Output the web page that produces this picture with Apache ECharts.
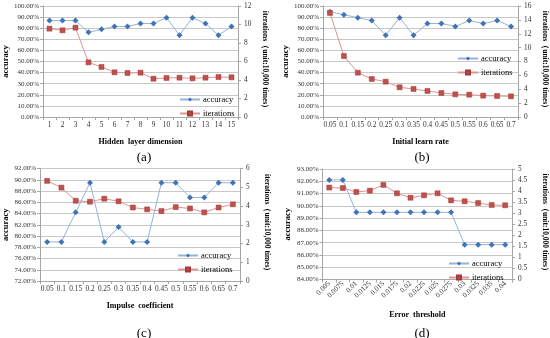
<!DOCTYPE html>
<html>
<head>
<meta charset="utf-8">
<script src="https://cdn.jsdelivr.net/npm/echarts@6/dist/echarts.min.js"></script>
<style>html,body{margin:0;padding:0;background:#fff;}#c{width:550px;height:338px;}</style>
</head>
<body>
<div id="c"></div>
<script>
// ---- data ----
const catsA = ['1','2','3','4','5','6','7','8','9','10','11','12','13','14','15'];
const accA  = [86.84,86.84,86.84,76.32,78.95,81.58,81.58,84.21,84.21,89.47,73.68,89.47,84.21,73.68,81.58];
const iterA = [9.55,9.37,9.66,5.91,5.41,4.83,4.76,4.79,4.14,4.22,4.25,4.18,4.25,4.32,4.29];

const catsB = ['0.05','0.1','0.15','0.2','0.25','0.3','0.35','0.4','0.45','0.5','0.55','0.6','0.65','0.7'];
const accB  = [94.74,92.11,89.47,86.84,73.68,89.47,73.68,84.21,84.21,81.58,86.84,84.21,86.84,81.58];
const iterB = [15.0,8.79,6.39,5.48,5.09,4.28,4.04,3.75,3.46,3.27,3.22,3.08,3.03,2.98];

const catsC = ['0.05','0.1','0.15','0.2','0.25','0.3','0.35','0.4','0.45','0.5','0.55','0.6','0.65','0.7'];
const accC  = [78.95,78.95,84.21,89.47,78.95,81.58,78.95,78.95,89.47,89.47,86.84,86.84,89.47,89.47];
const iterC = [5.34,4.98,4.28,4.23,4.39,4.25,3.92,3.82,3.73,3.94,3.87,3.66,3.92,4.09];

const catsD = ['0.005','0.0075','0.01','0.0125','0.015','0.0175','0.02','0.0225','0.025','0.0275','0.03','0.0325','0.035','0.04'];
const accD  = [92.11,92.11,89.47,89.47,89.47,89.47,89.47,89.47,89.47,89.47,86.84,86.84,86.84,86.84];
const iterD = [4.16,4.14,3.96,4.02,4.28,3.90,3.70,3.81,3.90,3.58,3.54,3.46,3.37,3.36];

const xTitles = ['Hidden  layer dimension','Initial learn rate','Impulse  coefficient','Error  threshold'];
const panelLabels = ['(a)','(b)','(c)','(d)'];
const leftRanges = [[0,100,10],[0,100,10],[72,92,2],[84,93,1]];
const rightRanges = [[0,12,2],[0,16,2],[0,6,1],[0,5,0.5]];
const yLeftTitle = 'accuracy';
const yRightTitle = 'iterations（unit:10,000 times）';
const seriesNames = ['accuracy','iterations'];

// ---- layout ----
const FONT = 'Liberation Serif';
const grids = [
  {left:39, top:6, width:199, height:111},
  {left:323, top:6, width:198, height:111},
  {left:39, top:168.5, width:201, height:112.5},
  {left:322.5, top:169, width:197.5, height:110.5}
];
const cats = [catsA,catsB,catsC,catsD];
const accs = [accA,accB,accC,accD];
const iters = [iterA,iterB,iterC,iterD];
const axisGray = '#a6a6a6';
const gridGray = '#c8c8c8';
const labelCol = '#333333';

const option = {
  animation:false,
  backgroundColor:'#fff',
  grid: grids.map(g => Object.assign({containLabel:false}, g)),
  title: panelLabels.map((t,i) => ({
    text:t, left: [139,417,139,417][i], top:[146,146,322,322][i], textAlign:'center',
    textStyle:{fontFamily:FONT, fontSize:13, fontWeight:'normal', color:'#000'}
  })),
  xAxis: cats.map((c,i) => ({
    type:'category', gridIndex:i, data:c, boundaryGap:true,
    name: xTitles[i], nameLocation:'middle', nameGap: i===3 ? 31 : 21,
    nameTextStyle:{fontFamily:FONT, fontSize:8, fontWeight:'bold', color:'#000'},
    axisLine:{lineStyle:{color:axisGray}},
    axisTick:{show:true, length:3, lineStyle:{color:axisGray}, alignWithLabel:false},
    axisLabel:{fontFamily:FONT, fontSize:7.3, color:labelCol, margin: i===3 ? 3 : 5, interval:0, rotate: i===3 ? 45 : 0}
  })),
  yAxis: [].concat(...grids.map((g,i) => [
    {type:'value', gridIndex:i, min:leftRanges[i][0], max:leftRanges[i][1], interval:leftRanges[i][2],
     name:yLeftTitle, nameLocation:'middle', nameGap:30,
     nameTextStyle:{fontFamily:FONT, fontSize:8.5, fontWeight:'bold', color:'#000'},
     axisLine:{show:true, lineStyle:{color:axisGray}},
     axisTick:{show:true, length:3, lineStyle:{color:axisGray}},
     splitLine:{show:true, lineStyle:{color:gridGray, width:1}},
     axisLabel:{fontFamily:FONT, fontSize:7, color:labelCol, margin:4, formatter:v => v.toFixed(2)+'%'}},
    {type:'value', gridIndex:i, position:'right', min:rightRanges[i][0], max:rightRanges[i][1], interval:rightRanges[i][2],
     name:yRightTitle, nameLocation:'middle', nameGap: i===3 ? 29 : 23, nameRotate:-90,
     nameTextStyle:{fontFamily:FONT, fontSize:7.5, fontWeight:'bold', color:'#000'},
     axisLine:{show:true, lineStyle:{color:axisGray}},
     axisTick:{show:true, length:3, lineStyle:{color:axisGray}},
     splitLine:{show:false},
     axisLabel:{fontFamily:FONT, fontSize:7.3, color:labelCol, margin:6}}
  ])),
  legend: [
    {left:174, top:90},
    {left:452, top:49},
    {left:172, top:246},
    {left:443, top:254}
  ].map(p => Object.assign({
    orient:'vertical', itemGap:5, itemWidth:20, itemHeight:5,
    data:seriesNames,
    textStyle:{fontFamily:FONT, fontSize:8.5, color:'#000', padding:[0,0,0,-2]}
  }, p)),
  series: [].concat(...grids.map((g,i) => [
    {name:seriesNames[0], type:'line', xAxisIndex:i, yAxisIndex:2*i, data:accs[i],
     symbol:'diamond', symbolSize:6,
     itemStyle:{color:'#3F75B8'}, lineStyle:{color:'#95B3D7', width:1}},
    {name:seriesNames[1], type:'line', xAxisIndex:i, yAxisIndex:2*i+1, data:iters[i],
     symbol:'rect', symbolSize:5,
     itemStyle:{color:'#C0504D', borderColor:'#A23B38', borderWidth:0.5}, lineStyle:{color:'#E09392', width:1}}
  ]))
};
const chart = echarts.init(document.getElementById('c'), null, {renderer:'canvas'});
chart.setOption(option);
</script>
</body>
</html>
